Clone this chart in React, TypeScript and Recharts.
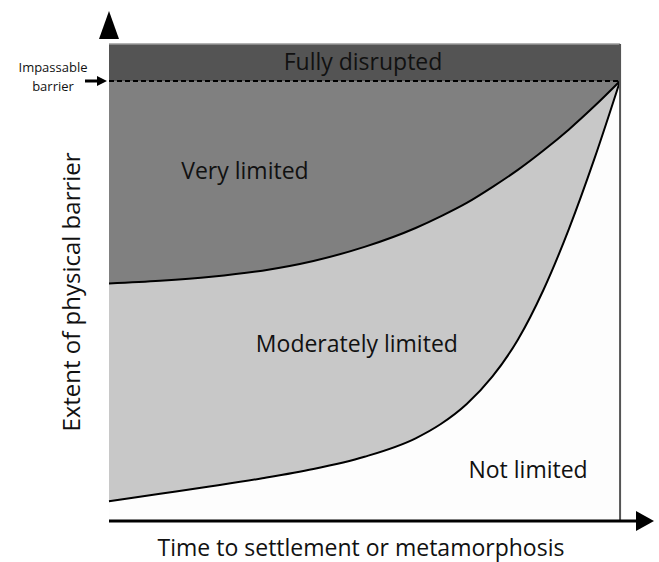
import React from "react";
import {
  ComposedChart,
  Area,
  XAxis,
  YAxis,
  ReferenceLine,
  ReferenceDot,
} from "recharts";

// time (x) positions, 0..100 across the box
const times = [0, 10, 20, 30, 40, 50, 60, 65, 70, 75, 80, 85, 90, 95, 100];
// boundary between "Very limited" and "Moderately limited"
const upperEdge = [54, 54.6, 55.5, 56.9, 59.1, 62.3, 66.6, 69.3, 72.3, 75.9, 79.8, 84.2, 89, 94.3, 100];
// boundary between "Moderately limited" and "Not limited"
const lowerEdge = [4.5, 6.2, 7.9, 9.7, 11.8, 14.6, 18.8, 22.1, 26.6, 32.8, 41.2, 52.5, 66.4, 82.4, 100];
const barrierLevel = 100;
const boxTop = 108.4;

// zone labels placed in data coordinates
const zones = [
  { name: "Fully disrupted", x: 49.7, y: 104.3 },
  { name: "Very limited", x: 26.6, y: 79.6 },
  { name: "Moderately limited", x: 48.5, y: 40.2 },
  { name: "Not limited", x: 82, y: 11.6 },
];

const data = times.map((t, i) => ({
  t,
  top: boxTop,
  barrier: barrierLevel,
  upper: upperEdge[i],
  lower: lowerEdge[i],
}));

const font = "'Open Sans', sans-serif";

const UpArrow = (props: any) => {
  const { cx, cy } = props;
  return <polygon points={`${cx - 10},${cy + 2} ${cx + 10},${cy + 2} ${cx},${cy - 26}`} fill="#000" />;
};

const RightArrow = (props: any) => {
  const { cx, cy } = props;
  return <polygon points={`${cx - 4},${cy - 10} ${cx - 4},${cy + 10} ${cx + 14},${cy}`} fill="#000" />;
};

const zoneText = (name: string) => (props: any) => (
  <text
    x={props.cx}
    y={props.cy}
    dy="0.35em"
    textAnchor="middle"
    fontFamily={font}
    fontSize={23}
    fill="#111"
  >
    {name}
  </text>
);

export default function App() {
  return (
    <div style={{ position: "absolute", left: 0, top: 0, width: 659, height: 562, background: "#fff" }}>
      <ComposedChart
        width={659}
        height={562}
        data={data}
        margin={{ top: 37, right: 19, left: 109, bottom: 0 }}
      >
        <XAxis
          dataKey="t"
          type="number"
          domain={[0, 103.9]}
          tick={false}
          tickLine={false}
          height={41}
          axisLine={{ stroke: "#000", strokeWidth: 3 }}
        />
        <YAxis
          type="number"
          domain={[0, 110]}
          tick={false}
          tickLine={false}
          width={0}
          axisLine={{ stroke: "#000", strokeWidth: 3 }}
        />
        <Area dataKey="top" type="linear" fill="#545454" fillOpacity={1} stroke="none" isAnimationActive={false} />
        <Area dataKey="barrier" type="linear" fill="#808080" fillOpacity={1} stroke="none" isAnimationActive={false} />
        <Area dataKey="upper" type="monotone" fill="#c8c8c8" fillOpacity={1} stroke="#000" strokeWidth={2} isAnimationActive={false} />
        <Area dataKey="lower" type="monotone" fill="#fdfdfd" fillOpacity={1} stroke="#000" strokeWidth={2} isAnimationActive={false} />
        <ReferenceLine
          segment={[{ x: 0, y: boxTop }, { x: 100, y: boxTop }]}
          stroke="#9a9a9a"
          strokeWidth={1.5}
        />
        <ReferenceLine
          segment={[{ x: 100, y: 0 }, { x: 100, y: boxTop }]}
          stroke="#555"
          strokeWidth={2}
        />
        <ReferenceLine
          segment={[{ x: 0, y: barrierLevel }, { x: 100, y: barrierLevel }]}
          stroke="#000"
          strokeWidth={2}
          strokeDasharray="5 3"
        />
        <ReferenceDot x={0} y={110} r={0} ifOverflow="visible" shape={UpArrow} />
        <ReferenceDot x={103.9} y={0} r={0} ifOverflow="visible" shape={RightArrow} />
        {zones.map((z) => (
          <ReferenceDot key={z.name} x={z.x} y={z.y} r={0} ifOverflow="visible" shape={zoneText(z.name)} />
        ))}

        <g fontFamily={font} fill="#111">
          <text x={361} y={556} fontSize={23} textAnchor="middle">Time to settlement or metamorphosis</text>
          <text x={80} y={292} fontSize={24} textAnchor="middle" transform="rotate(-90, 80, 292)">
            Extent of physical barrier
          </text>
          <text x={53} y={72} fontSize={13} textAnchor="middle">Impassable</text>
          <text x={53} y={91} fontSize={13} textAnchor="middle">barrier</text>
          <line x1={85} y1={81} x2={99} y2={81} stroke="#000" strokeWidth={3} />
          <polygon points="97,76 97,86 107,81" fill="#000" />
        </g>
      </ComposedChart>
    </div>
  );
}
